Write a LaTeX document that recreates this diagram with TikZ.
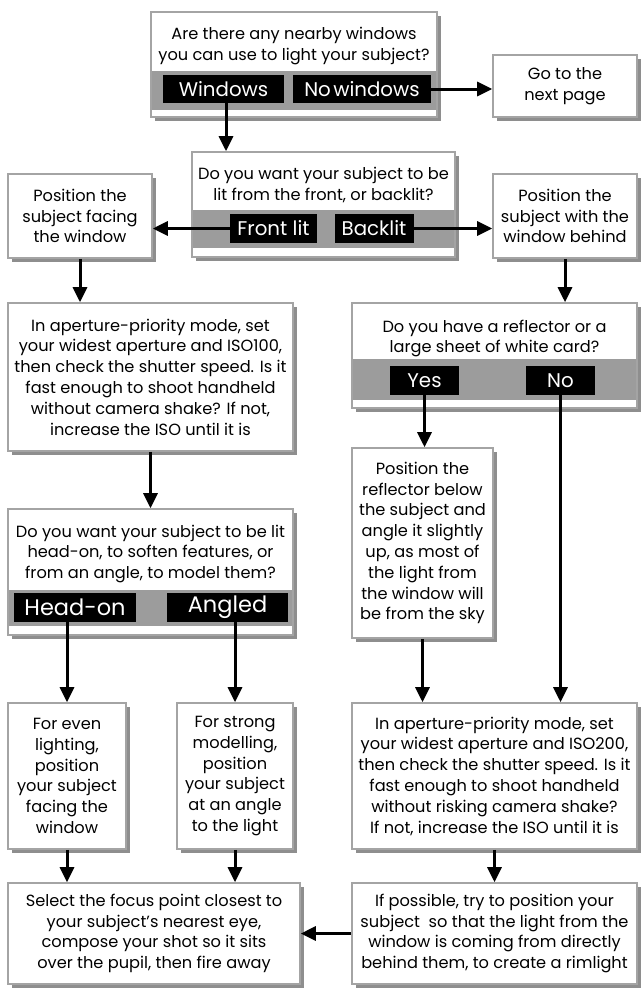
\documentclass[tikz,border=0pt]{standalone}
\usepackage{fontspec}
\setmainfont{Poppins}
\usetikzlibrary{arrows.meta,shadows}

\definecolor{edgegray}{HTML}{A4A4A4}
\definecolor{shadowgray}{HTML}{8E8E8E}
\definecolor{bandgray}{HTML}{9C9C9C}

\newcommand{\bodysize}{\fontsize{16.2pt}{20.8pt}\selectfont}
\newcommand{\labelsize}{\fontsize{19.8pt}{22pt}\selectfont}
\newcommand{\biglabelsize}{\fontsize{22.5pt}{24pt}\selectfont}

\begin{document}
\begin{tikzpicture}[x=1pt,y=-1pt,
  box/.style={draw=edgegray, line width=1.6pt, fill=white, inner sep=0pt,
    general shadow={fill=shadowgray, shadow xshift=4pt, shadow yshift=-4pt},
    align=center, font=\bodysize},
  band/.style={fill=bandgray, draw=none, inner sep=0pt},
  qtext/.style={align=center, font=\bodysize, inner sep=0pt},
  answer/.style={fill=black, text=white, inner sep=0pt, font=\labelsize,
    minimum height=29pt},
  biganswer/.style={answer, font=\biglabelsize},
  flow/.style={line width=3pt, -{Triangle[length=15pt,width=14pt]}}]

\useasboundingbox (0,0) rectangle (641,990);

% ---------- question 1: windows ----------
\node[box, minimum width=286pt, minimum height=105pt] (q1) at (294,64.5) {};
\node[band, minimum width=284.4pt, minimum height=39pt] (q1band) at (294,90.5) {};
\node[qtext] (q1t) at (294,46) {Are there any nearby windows\\you can use to light your subject?};
\node[answer, minimum width=121pt, minimum height=28pt] (win) at (223.5,89) {Windows};
\node[answer, minimum width=138pt, minimum height=28pt] (nowin) at (362,89) {No\hspace{0.12em}windows};

\node[box, minimum width=144pt, minimum height=62pt] (go) at (565,86) {Go to the\\next page};

% ---------- question 2: front or back ----------
\node[box, minimum width=263pt, minimum height=105pt] (q2) at (323.5,204.5) {};
\node[band, minimum width=261.4pt, minimum height=38pt] (q2band) at (323.5,229) {};
\node[qtext] (q2t) at (323.5,185) {Do you want your subject to be\\lit from the front, or backlit?};
\node[answer, minimum width=87pt] (front) at (273.5,228.5) {Front lit};
\node[answer, minimum width=79pt] (back) at (374,228.5) {Backlit};

\node[box, minimum width=144pt, minimum height=84pt] (facing) at (80,216) {Position the\\subject facing\\the window};
\node[box, minimum width=144pt, minimum height=84pt] (behind) at (565,216) {Position the\\subject with the\\window behind};

% ---------- front-lit branch ----------
\node[box, minimum width=285pt, minimum height=148pt] (iso100) at (150.5,377) {In aperture-priority mode, set\\your widest aperture and ISO100,\\then check the shutter speed. Is it\\fast enough to shoot handheld\\without camera shake? If not,\\increase the ISO until it is};

\node[box, minimum width=285pt, minimum height=126pt] (q3) at (150.5,572) {};
\node[band, minimum width=283.4pt, minimum height=36pt] (q3band) at (150.5,608) {};
\node[qtext] (q3t) at (150.5,554) {Do you want your subject to be lit\\head-on, to soften features, or\\from an angle, to model them?};
\node[biganswer, minimum width=122pt] (headon) at (75,607.5) {Head-on};
\node[biganswer, minimum width=121pt] (angled) at (227.5,607.5) {Angled};

\node[box, minimum width=118pt, minimum height=146pt] (even) at (67,776) {For even\\lighting,\\position\\your subject\\facing the\\window};
\node[box, minimum width=116pt, minimum height=146pt] (strong) at (235,776) {For strong\\modelling,\\position\\your subject\\at an angle\\to the light};

\node[box, minimum width=292pt, minimum height=101pt] (focus) at (154,933.5) {Select the focus point closest to\\your subject’s nearest eye,\\compose your shot so it sits\\over the pupil, then fire away};

% ---------- backlit branch ----------
\node[box, minimum width=285pt, minimum height=105pt] (q4) at (494.5,355.5) {};
\node[band, minimum width=283.4pt, minimum height=41pt] (q4band) at (494.5,379.5) {};
\node[qtext] (q4t) at (494.5,338.5) {Do you have a reflector or a\\large sheet of white card?};
\node[answer, minimum width=69pt] (yes) at (424.5,380.5) {Yes};
\node[answer, minimum width=69pt] (no) at (560.5,380.5) {No};

\node[box, minimum width=141pt, minimum height=190pt] (reflector) at (422.5,543) {Position the\\reflector below\\the subject and\\angle it slightly\\up, as most of\\the light from\\the window will\\be from the sky};

\node[box, minimum width=285pt, minimum height=146pt] (iso200) at (494.5,776) {In aperture-priority mode, set\\your widest aperture and ISO200,\\then check the shutter speed. Is it\\fast enough to shoot handheld\\without risking camera shake?\\If not, increase the ISO until it is};

\node[box, minimum width=285pt, minimum height=101pt] (rim) at (494.5,933.5) {If possible, try to position your\\subject\ \ so that the light from the\\window is coming from directly\\behind them, to create a rimlight};

% ---------- connectors ----------
\draw[flow] (nowin.east) -- (nowin.east -| go.west);
\draw[flow] ([xshift=2.5pt]win.south) -- ([xshift=2.5pt]win.south |- q2.north);
\draw[flow] (front.west) -- (front.west -| facing.east);
\draw[flow] (back.east) -- (back.east -| behind.west);
\draw[flow] (facing.south) -- (facing.south |- iso100.north);
\draw[flow] (behind.south) -- (behind.south |- q4.north);
\draw[flow] (iso100.south) -- (iso100.south |- q3.north);
\draw[flow] (even.north |- headon.south) -- (even.north);
\draw[flow] (strong.north |- angled.south) -- (strong.north);
\draw[flow] (yes.south) -- (yes.south |- reflector.north);
\draw[flow] (no.south) -- (no.south |- iso200.north);
\draw[flow] (reflector.south) -- (reflector.south |- iso200.north);
\draw[flow] (even.south) -- (even.south |- focus.north);
\draw[flow] (strong.south) -- (strong.south |- focus.north);
\draw[flow] (iso200.south) -- (iso200.south |- rim.north);
\draw[flow] (rim.west) -- (rim.west -| focus.east);

\end{tikzpicture}
\end{document}
